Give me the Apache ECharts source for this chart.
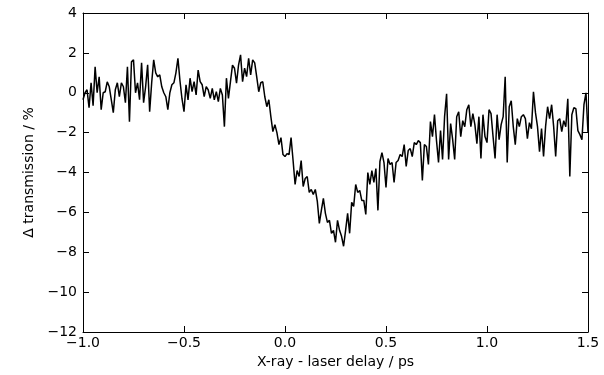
<!DOCTYPE html>
<html><head><meta charset="utf-8">
<script src="https://cdn.jsdelivr.net/npm/echarts@6/dist/echarts.min.js"></script>
<style>html,body{margin:0;padding:0;background:#fff}#c{width:604px;height:375px}</style>
</head><body><div id="c"></div>
<script>
const delays = [
-1.00,-0.99,-0.98,-0.97,-0.96,-0.95,-0.94,-0.93,-0.92,-0.91,
-0.90,-0.89,-0.88,-0.87,-0.86,-0.85,-0.84,-0.83,-0.82,-0.81,
-0.80,-0.79,-0.78,-0.77,-0.76,-0.75,-0.74,-0.73,-0.72,-0.71,
-0.70,-0.69,-0.68,-0.67,-0.66,-0.65,-0.64,-0.63,-0.62,-0.61,
-0.60,-0.59,-0.58,-0.57,-0.56,-0.55,-0.54,-0.53,-0.52,-0.51,
-0.50,-0.49,-0.48,-0.47,-0.46,-0.45,-0.44,-0.43,-0.42,-0.41,
-0.40,-0.39,-0.38,-0.37,-0.36,-0.35,-0.34,-0.33,-0.32,-0.31,
-0.30,-0.29,-0.28,-0.27,-0.26,-0.25,-0.24,-0.23,-0.22,-0.21,
-0.20,-0.19,-0.18,-0.17,-0.16,-0.15,-0.14,-0.13,-0.12,-0.11,
-0.10,-0.09,-0.08,-0.07,-0.06,-0.05,-0.04,-0.03,-0.02,-0.01,
0.00,0.01,0.02,0.03,0.04,0.05,0.06,0.07,0.08,0.09,
0.10,0.11,0.12,0.13,0.14,0.15,0.16,0.17,0.18,0.19,
0.20,0.21,0.22,0.23,0.24,0.25,0.26,0.27,0.28,0.29,
0.30,0.31,0.32,0.33,0.34,0.35,0.36,0.37,0.38,0.39,
0.40,0.41,0.42,0.43,0.44,0.45,0.46,0.47,0.48,0.49,
0.50,0.51,0.52,0.53,0.54,0.55,0.56,0.57,0.58,0.59,
0.60,0.61,0.62,0.63,0.64,0.65,0.66,0.67,0.68,0.69,
0.70,0.71,0.72,0.73,0.74,0.75,0.76,0.77,0.78,0.79,
0.80,0.81,0.82,0.83,0.84,0.85,0.86,0.87,0.88,0.89,
0.90,0.91,0.92,0.93,0.94,0.95,0.96,0.97,0.98,0.99,
1.00,1.01,1.02,1.03,1.04,1.05,1.06,1.07,1.08,1.09,
1.10,1.11,1.12,1.13,1.14,1.15,1.16,1.17,1.18,1.19,
1.20,1.21,1.22,1.23,1.24,1.25,1.26,1.27,1.28,1.29,
1.30,1.31,1.32,1.33,1.34,1.35,1.36,1.37,1.38,1.39,
1.40,1.41,1.42,1.43,1.44,1.45,1.46,1.47,1.48,1.49,
1.50
];
const transmission = [
-0.35,0.0,0.15,-0.75,0.5,-0.65,1.3,0.0,0.8,-0.85,
0.0,0.05,0.55,0.3,-0.35,-1.0,0.15,0.5,-0.2,0.5,
0.3,-0.5,1.3,-1.45,1.55,1.65,0.0,0.5,-0.35,1.5,
-0.5,0.3,1.4,-0.95,0.5,1.65,1.0,0.8,0.9,0.3,
0.0,-0.2,-0.85,
0.0,0.4,0.5,1.0,1.73,0.6,-0.3,-0.95,0.4,-0.36,
0.73,0.06,0.56,-0.11,1.14,0.56,0.4,-0.19,0.31,0.14,
-0.28,0.22,-0.36,0.06,-0.45,0.22,-0.11,-1.7,0.73,-0.28,
0.56,1.39,1.23,0.48,1.39,1.9,0.56,1.23,0.81,1.73,
0.9,1.65,1.5,0.8,0.05,0.5,0.55,-0.2,-0.7,-0.35,
-1.2,-1.95,-1.6,-2.0,-2.6,-2.25,-3.1,-3.2,-3.05,-3.1,
-2.25,-3.4,-4.6,-3.9,-4.2,-3.4,-4.7,-4.3,-4.2,-5.0,
-4.85,-5.1,-4.85,-5.45,-6.55,-5.9,-5.3,-6.05,-6.5,-6.4,
-7.05,-6.9,-7.5,
-6.4,-6.9,-7.2,-7.7,-6.9,-6.05,-7.05,-5.5,-5.7,-4.6,
-5.0,-4.9,-5.4,-5.4,-6.1,-4.0,-4.6,-3.9,-4.5,-3.8,
-5.9,-3.45,-3.0,-3.5,-4.75,-3.3,-3.6,-3.5,-4.5,-3.5,
-3.4,-3.1,-3.2,-2.6,-3.7,-2.9,-2.8,-3.2,-2.5,-2.6,
-2.4,
-2.5,-4.4,-2.6,-2.7,-3.6,-1.45,-2.2,-1.1,-2.4,-3.5,
-1.9,-3.35,-1.2,-0.05,-3.35,-1.55,-2.35,-3.35,-1.2,-0.95,
-2.2,-1.4,-1.7,-0.85,-0.6,-1.7,-1.05,-1.6,-2.55,-1.2,
-3.3,-1.1,-2.2,-2.5,-0.85,-1.05,-2.2,-3.3,-1.1,-2.35,
-1.6,-1.2,
0.8,-3.5,-0.7,-0.4,-1.7,-2.6,-1.3,-1.7,-1.2,-1.1,
-1.3,-2.3,-1.5,-1.8,0.05,-1.0,-1.7,-2.95,-1.8,-3.2,
-1.7,-0.7,-1.3,-0.6,-1.7,-3.2,-1.4,-1.3,-1.95,-1.4,
-1.7,-0.3,-4.2,-1.1,-0.75,-0.8,-1.9,-2.1,-2.35,-0.6,
0.0,-2.0
];
const xMin = -1.0, xMax = 1.5, xStep = 0.5;
const yMin = -12, yMax = 4, yStep = 2;
const xTitle = 'X-ray - laser delay / ps';
const yTitle = '\u0394 transmission / %';

const font = 'DejaVu Sans';
const minus = v => (v < 0 ? '\u2212' : '') + Math.abs(v);
const fmtX = v => (v < 0 ? '\u2212' : '') + Math.abs(v).toFixed(1);

const chart = echarts.init(document.getElementById('c'), null, {renderer: 'canvas'});
const axisCommon = {
  type: 'value',
  axisLine: {show: true, onZero: false, lineStyle: {color: '#000', width: 1}},
  axisTick: {show: true, inside: true, length: 6, lineStyle: {color: '#000', width: 1}},
  splitLine: {show: false}
};
chart.setOption({
  animation: false,
  backgroundColor: '#fff',
  grid: {left: 83, right: 16, top: 13, bottom: 43, containLabel: false},
  xAxis: [
    Object.assign({}, axisCommon, {
      position: 'bottom', min: xMin, max: xMax, interval: xStep,
      axisLabel: {color: '#000', fontFamily: font, fontSize: 14, margin: 4, formatter: fmtX, showMinLabel: true, showMaxLabel: true},
      name: xTitle, nameLocation: 'middle', nameGap: 23,
      nameTextStyle: {color: '#000', fontFamily: font, fontSize: 14}
    }),
    Object.assign({}, axisCommon, {
      position: 'top', min: xMin, max: xMax, interval: xStep,
      axisLabel: {show: false}
    })
  ],
  yAxis: [
    Object.assign({}, axisCommon, {
      position: 'left', min: yMin, max: yMax, interval: yStep,
      axisLabel: {color: '#000', fontFamily: font, fontSize: 14, margin: 6, formatter: minus, showMinLabel: true, showMaxLabel: true},
      name: yTitle, nameLocation: 'middle', nameGap: 44, nameRotate: 90,
      nameTextStyle: {color: '#000', fontFamily: font, fontSize: 14}
    }),
    Object.assign({}, axisCommon, {
      position: 'right', min: yMin, max: yMax, interval: yStep,
      axisLabel: {show: false}
    })
  ],
  series: [{
    type: 'line',
    xAxisIndex: 0, yAxisIndex: 0,
    data: delays.map((d, i) => [d, transmission[i]]),
    showSymbol: false,
    symbol: 'none',
    lineStyle: {color: '#000', width: 1.5},
    z: 1
  }]
});
</script>
</body></html>
